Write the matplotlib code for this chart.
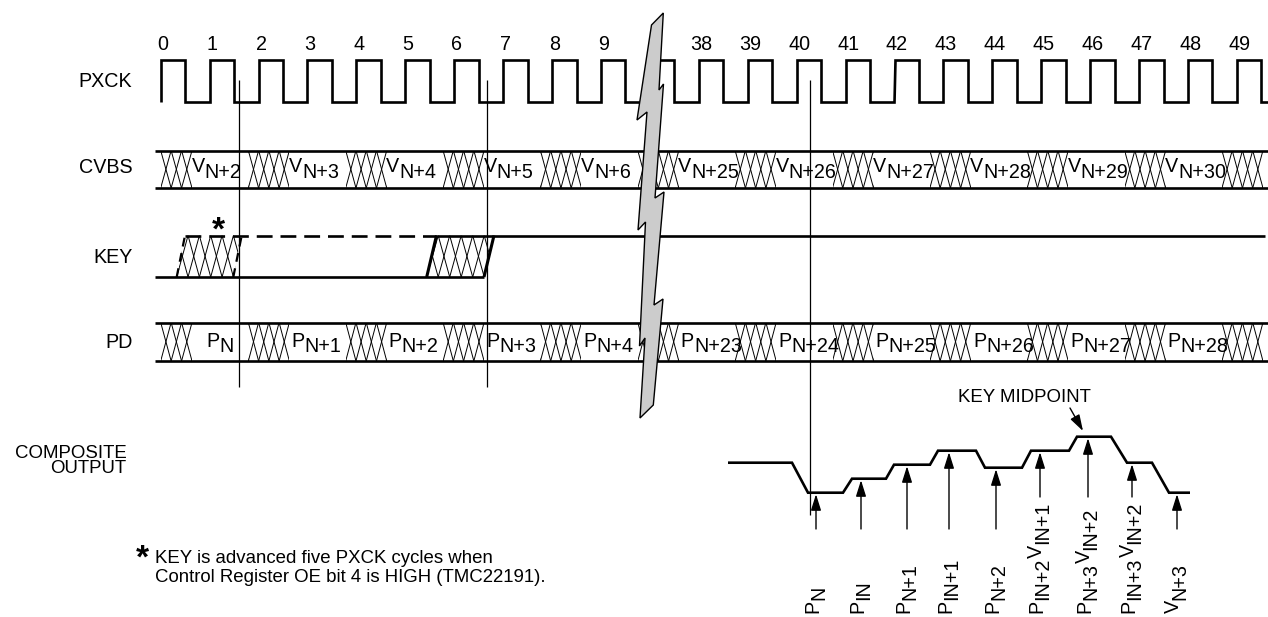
"""
TMC22191 key timing diagram (PXCK / CVBS / KEY / PD / composite output)
"""

import numpy as np
import matplotlib
matplotlib.use('Agg')
import matplotlib.pyplot as plt
from matplotlib.patches import Polygon

plt.rcParams['font.family'] = ['Liberation Sans', 'DejaVu Sans']

# ============================================================
# data
# ============================================================
clk_labels = ['0', '1', '2', '3', '4', '5', '6', '7', '8', '9',
              '38', '39', '40', '41', '42', '43', '44', '45', '46', '47', '48', '49']
# clock slot index 10 is hidden behind the break
clk_slots = [0, 1, 2, 3, 4, 5, 6, 7, 8, 9, 11, 12, 13, 14, 15, 16, 17, 18, 19, 20, 21, 22]

cvbs_labels = ['N+2', 'N+3', 'N+4', 'N+5', 'N+6',
               'N+25', 'N+26', 'N+27', 'N+28', 'N+29', 'N+30']
pd_labels = ['N', 'N+1', 'N+2', 'N+3', 'N+4',
             'N+23', 'N+24', 'N+25', 'N+26', 'N+27', 'N+28']

# composite output: time (px) / level (px above blank)
comp_t = [728, 792, 808, 843, 852, 886, 894, 930, 938, 976,
          985, 1022, 1031, 1069, 1077, 1111, 1127, 1152, 1169, 1190]
comp_v = [0, 0, -30, -30, -16, -16, -2, -2, 12, 12,
          -5, -5, 12, 12, 26, 26, 0, 0, -30, -30]

# sample arrows under the composite waveform
samp_t = [816, 861, 907, 949, 996, 1040, 1088, 1132, 1177]
samp_labels = [
    [('P', 0), ('N', 1)],
    [('P', 0), ('IN', 1)],
    [('P', 0), ('N+1', 1)],
    [('P', 0), ('IN+1', 1)],
    [('P', 0), ('N+2', 1)],
    [('P', 0), ('IN+2', 1), ('V', 0), ('IN+1', 1)],
    [('P', 0), ('N+3', 1), ('V', 0), ('IN+2', 1)],
    [('P', 0), ('IN+3', 1), ('V', 0), ('IN+2', 1)],
    [('V', 0), ('N+3', 1)],
]

# vertical reference lines (x, bottom)
mark_x = [239.3, 486.7, 810]
mark_bot = [387, 387, 515]

# break symbol outline
bolt_x = [651.5, 663.3, 659, 663.5, 655, 664, 654, 663, 653.3, 640,
          645, 639.5, 645.5, 638, 647, 637]
bolt_y = [25, 13, 90, 84, 198, 192, 305, 299, 405, 418,
          338, 346, 222, 230, 112, 120]

# ============================================================
# layout
# ============================================================
W, H = 1268, 617
FS = 14.2
FS2 = 13.4
LW = 1.9
HLW = 0.7

X0, T = 160.7, 48.92           # first PXCK rising edge, clock period
CLK_HI, CLK_LO = 60, 101.5
CV_TOP, CV_BOT = 150.5, 188
KEY_HI, KEY_LO = 235.5, 277
PD_TOP, PD_BOT = 322.5, 361
HATCH_END0, HATCH_STEP, HATCH_W = 192, 97.36, 41
COMP_BASE = 462.7

fig = plt.figure(figsize=(W / 100, H / 100), dpi=100)
ax = fig.add_axes([0, 0, 1, 1])
ax.set_xlim(0, W)
ax.set_ylim(H, 0)
ax.axis('off')
renderer = fig.canvas.get_renderer()


def text_w(s, size=FS):
    t = ax.text(0, 0, s, fontsize=size)
    w = t.get_window_extent(renderer).width
    t.remove()
    return w


def line(xs, ys, lw=LW, **kw):
    return ax.plot(xs, ys, color='black', lw=lw, solid_capstyle='butt',
                   solid_joinstyle='miter', **kw)[0]


def hatch(xt0, xt1, xb0, xb1, yt, yb, n, lw=HLW):
    """symmetric crossed-X fill, clipped to the (slanted) cell outline"""
    clip = Polygon([(xt0, yt), (xt1, yt), (xb1, yb), (xb0, yb)], closed=True,
                   transform=ax.transData)
    cw = (xt1 - xt0) / n
    lo, hi = min(xt0, xb0) - cw, max(xt1, xb1)
    for p in np.arange(lo, hi + 0.1, cw):
        for xs in ([p, p + cw], [p + cw, p]):
            ln = line(xs, [yt, yb], lw=lw)
            ln.set_clip_path(clip)


def parts_text(x, y, parts, raise_px, rot=False):
    """main glyphs raised above the subscript, subscript same size"""
    for s, sub in parts:
        if rot:
            ax.text(x + (raise_px if sub else 0), y, s, rotation=90,
                    rotation_mode='anchor', ha='left', va='baseline', fontsize=FS)
            y -= text_w(s)
        else:
            ax.text(x, y - (0 if sub else raise_px), s,
                    ha='left', va='baseline', fontsize=FS)
            x += text_w(s)


# ---- row names ----
for name, yb in [('PXCK', 87.3), ('CVBS', 173.3), ('KEY', 262.7), ('PD', 348.3)]:
    ax.text(132.5, yb, name, ha='right', va='baseline', fontsize=FS)
ax.text(127, 458, 'COMPOSITE', ha='right', va='baseline', fontsize=FS2)
ax.text(126, 473, 'OUTPUT', ha='right', va='baseline', fontsize=FS2)

# ---- PXCK ----
n_edges = 23
px, py = [X0], [CLK_LO]
for k in range(n_edges):
    e = X0 + k * T
    px += [e, e + T / 2, e + T / 2]
    py += [CLK_HI, CLK_HI, CLK_LO]
    if k < n_edges - 1:
        px.append(e + T)
        py.append(CLK_LO)
px.append(W)
py.append(CLK_LO)
line(px, py)
for lab, slot in zip(clk_labels, clk_slots):
    ax.text(X0 + slot * T + 2.5, 50, lab, ha='center', va='baseline', fontsize=FS)

# ---- CVBS / PD buses ----
n_hatch = 12
for top, bot in [(CV_TOP, CV_BOT), (PD_TOP, PD_BOT)]:
    line([155, W], [top, top])
    line([155, W], [bot, bot])
    for j in range(n_hatch):
        he = HATCH_END0 + j * HATCH_STEP
        hs = max(he - HATCH_W, X0)
        n = 4 if j else 3
        hatch(hs, he, hs, he, top, bot, n)

for j, lab in enumerate(cvbs_labels):
    he = HATCH_END0 + j * HATCH_STEP
    parts_text(he - 0.5, 178.3, [('V', 0), (lab, 1)], 6.5)

for j, lab in enumerate(pd_labels):
    he = HATCH_END0 + j * HATCH_STEP
    gap = HATCH_STEP - HATCH_W
    w = text_w('P') + text_w(lab)
    x = he + (gap - w) / 2 if w < 0.7 * gap else he + 2
    parts_text(x, 352, [('P', 0), (lab, 1)], 5)

# ---- KEY ----
line([155, 484], [KEY_LO, KEY_LO])
line([185, 436.5], [KEY_HI, KEY_HI], ls=(0, (6, 3)))
line([436.5, 1265], [KEY_HI, KEY_HI])
# advanced (dashed) transition
line([176.7, 185], [KEY_LO, KEY_HI], ls=(0, (4, 3)), lw=1.6)
line([233.3, 241.7], [KEY_LO, KEY_HI], ls=(0, (4, 3)), lw=1.6)
hatch(185, 241.7, 176.7, 233.3, KEY_HI, KEY_LO, 5)
# normal transition
line([426.7, 436.5], [KEY_LO, KEY_HI], lw=2.2)
line([484, 494], [KEY_LO, KEY_HI], lw=2.2)
hatch(436.5, 494, 426.7, 484, KEY_HI, KEY_LO, 5)
ax.text(218, 240, '*', ha='center', va='baseline', fontsize=24, fontweight='bold')

# ---- reference lines ----
for mx, mb in zip(mark_x, mark_bot):
    line([mx, mx], [80, mb], lw=0.9)

# ---- break symbol ----
ax.add_patch(Polygon(np.column_stack([bolt_x, bolt_y]), closed=True,
                     facecolor='#cccccc', edgecolor='black', lw=1.0, zorder=10))

# ---- composite output ----
comp_y = [COMP_BASE - v for v in comp_v]
line(comp_t, comp_y)
arrow_kw = dict(arrowstyle='-|>,head_length=0.7,head_width=0.22',
                lw=1.0, color='black', shrinkA=0, shrinkB=0, mutation_scale=14)
for st, parts in zip(samp_t, samp_labels):
    tip = np.interp(st, comp_t, comp_y) + 1.5
    bot = 497 if len(parts) > 2 else 529
    ax.annotate('', xy=(st, tip), xytext=(st, bot), arrowprops=arrow_kw)
    parts_text(st + 2, 613, parts, 6, rot=True)

ax.text(1024, 401.7, 'KEY MIDPOINT', ha='center', va='baseline', fontsize=FS2)
ax.annotate('', xy=(1083, 431), xytext=(1070, 408), arrowprops=arrow_kw)

# ---- footnote ----
ax.text(142, 568, '*', ha='center', va='baseline', fontsize=24, fontweight='bold')
ax.text(155, 563.3, 'KEY is advanced five PXCK cycles when',
        ha='left', va='baseline', fontsize=FS2)
ax.text(155, 581.7, 'Control Register OE bit 4 is HIGH (TMC22191).',
        ha='left', va='baseline', fontsize=FS2)

fig.savefig('out.png', dpi=100)
plt.close(fig)
